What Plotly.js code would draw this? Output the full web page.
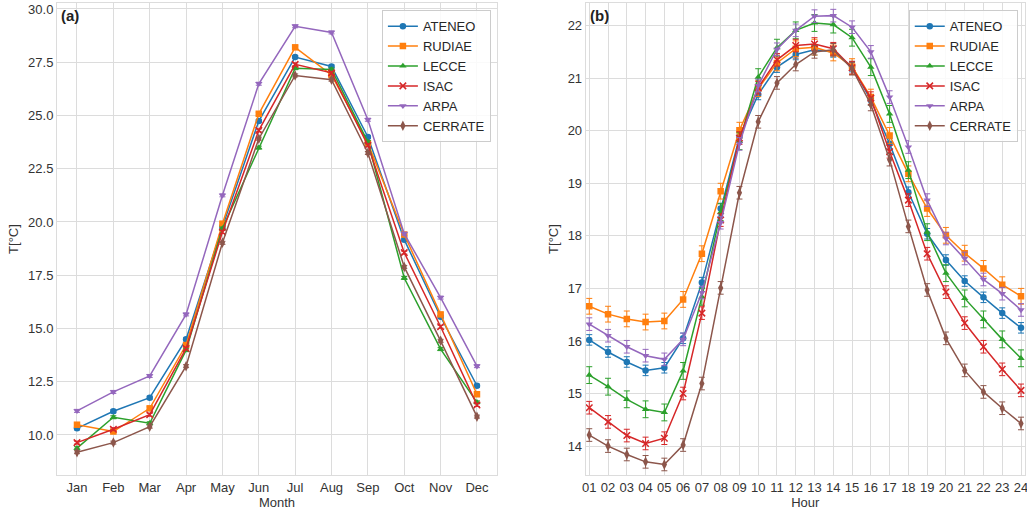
<!DOCTYPE html>
<html>
<head>
<meta charset="utf-8">
<script src="https://cdn.plot.ly/plotly-3.0.1.min.js"></script>
<style>html,body{margin:0;padding:0;background:#fff;}#chart{width:1027px;height:512px;}</style>
</head>
<body>
<div id="chart"></div>
<script>
const months = ["Jan","Feb","Mar","Apr","May","Jun","Jul","Aug","Sep","Oct","Nov","Dec"];
const hours = ["01","02","03","04","05","06","07","08","09","10","11","12","13","14","15","16","17","18","19","20","21","22","23","24"];
const stations = ["ATENEO","RUDIAE","LECCE","ISAC","ARPA","CERRATE"];
const colors = ["#1f77b4","#ff7f0e","#2ca02c","#d62728","#9467bd","#8c564b"];
const symbols = ["circle","square","triangle-up","x-thin","triangle-down","diamond-tall"];

// Monthly mean temperature (panel a)
const monATENEO  = [10.31,11.11,11.75,14.49,19.77,24.74,27.74,27.30,23.99,19.17,15.55,12.31];
const monRUDIAE  = [10.48,10.16,11.25,14.22,19.92,25.08,28.20,26.90,23.70,19.41,15.66,11.91];
const monLECCE   = [9.38,10.83,10.55,13.98,19.69,23.49,27.22,27.16,23.75,17.37,14.03,11.53];
const monISAC    = [9.64,10.27,10.95,14.06,19.53,24.30,27.40,27.00,23.60,18.56,15.08,11.41];
const monARPA    = [11.13,12.02,12.77,15.66,21.25,26.49,29.19,28.90,24.80,19.45,16.45,13.23];
const monCERRATE = [9.19,9.64,10.39,13.23,19.02,23.91,26.88,26.68,23.24,17.89,14.42,10.86];
const monErr = [0.07,0.07,0.07,0.07,0.07,0.07];

// Hourly mean temperature (panel b)
const hrATENEO  = [16.02,15.79,15.60,15.44,15.49,16.05,17.11,18.52,19.88,20.69,21.21,21.45,21.54,21.50,21.22,20.58,19.75,18.83,18.04,17.54,17.14,16.83,16.53,16.25];
const hrRUDIAE  = [16.66,16.51,16.42,16.36,16.38,16.79,17.66,18.85,20.01,20.80,21.29,21.56,21.59,21.48,21.22,20.64,19.91,19.18,18.52,18.01,17.67,17.38,17.07,16.85];
const hrLECCE   = [15.35,15.13,14.89,14.70,14.64,15.43,16.84,18.45,19.80,21.02,21.58,21.91,22.05,22.02,21.77,21.21,20.32,19.25,18.07,17.29,16.81,16.41,16.03,15.67];
const hrISAC    = [14.73,14.46,14.20,14.05,14.15,15.00,16.53,18.30,19.86,20.82,21.35,21.62,21.65,21.56,21.20,20.62,19.60,18.68,17.66,16.93,16.34,15.89,15.46,15.06];
const hrARPA    = [16.32,16.10,15.89,15.72,15.65,16.03,16.92,18.25,19.75,20.86,21.55,21.91,22.18,22.19,21.97,21.50,20.64,19.69,18.68,17.95,17.57,17.17,16.90,16.59];
const hrCERRATE = [14.21,14.00,13.84,13.70,13.65,14.02,15.19,17.01,18.82,20.17,20.91,21.26,21.50,21.54,21.18,20.50,19.45,18.18,16.97,16.05,15.44,15.03,14.72,14.43];
const hrErr = [0.10,0.15,0.16,0.12,0.12,0.12];

const monData = [monATENEO,monRUDIAE,monLECCE,monISAC,monARPA,monCERRATE];
const hrData = [hrATENEO,hrRUDIAE,hrLECCE,hrISAC,hrARPA,hrCERRATE];

const traces = [];
function addTraces(xs, dataSets, errs, xa, ya, legendName) {
  dataSets.forEach((ys, i) => {
    const sym = symbols[i];
    let msize = 6.5;
    if (sym === "diamond-tall") msize = 7.5;
    traces.push({
      type: "scatter", mode: "lines+markers",
      x: xs, y: ys, name: stations[i],
      xaxis: xa, yaxis: ya, legend: legendName,
      line: {color: colors[i], width: 1.5},
      marker: {symbol: sym, size: msize, color: colors[i],
               line: {color: colors[i], width: sym === "x-thin" ? 1.5 : 0}},
      error_y: {type: "constant", value: errs[i], color: colors[i], thickness: 1, width: 3}
    });
  });
}
addTraces(months, monData, monErr, "x", "y", "legend");
addTraces(hours, hrData, hrErr, "x2", "y2", "legend2");

const gridc = "#dcdcdc";
const tickfont = {family: "Liberation Sans, Arial, sans-serif", size: 13, color: "#333333"};
const titlefont = {family: "Liberation Sans, Arial, sans-serif", size: 13, color: "#333333"};
const axisCommon = {
  showgrid: true, gridcolor: gridc, gridwidth: 1,
  showline: true, linecolor: gridc, linewidth: 1, mirror: true,
  zeroline: false, ticks: "", tickfont: tickfont
};
const legendCommon = {
  bgcolor: "rgba(255,255,255,0.85)", bordercolor: "#cccccc", borderwidth: 1,
  font: {family: "Liberation Sans, Arial, sans-serif", size: 13, color: "#262626"},
  xanchor: "right", yanchor: "top", tracegroupgap: 0, itemsizing: "trace", itemwidth: 30
};

const layout = {
  width: 1027, height: 512,
  margin: {l: 0, r: 0, t: 0, b: 0},
  paper_bgcolor: "#ffffff", plot_bgcolor: "#ffffff",
  font: {family: "Liberation Sans, Arial, sans-serif", color: "#333333"},
  showlegend: true,
  xaxis: Object.assign({}, axisCommon, {
    domain: [0.0555, 0.4839], type: "category", range: [-0.55, 11.55],
    title: {text: "Month", font: titlefont, standoff: 2}
  }),
  yaxis: Object.assign({}, axisCommon, {
    domain: [0.0723, 0.9941], range: [8.12, 30.28], dtick: 2.5, tick0: 0, tickformat: ".1f",
    title: {text: "T[°C]", font: titlefont, standoff: 6}
  }),
  xaxis2: Object.assign({}, axisCommon, {
    domain: [0.5703, 0.998], type: "category", range: [-0.19, 23.21], anchor: "y2",
    title: {text: "Hour", font: titlefont, standoff: 2}
  }),
  yaxis2: Object.assign({}, axisCommon, {
    domain: [0.0723, 0.9941], range: [13.45, 22.43], dtick: 1, tick0: 0, anchor: "x2",
    title: {text: "T[°C]", font: titlefont, standoff: 6}
  }),
  legend: Object.assign({}, legendCommon, {x: 0.478, y: 0.98}),
  legend2: Object.assign({}, legendCommon, {x: 0.991, y: 0.98}),
  annotations: [
    {text: "<b>(a)</b>", xref: "x domain", yref: "y domain", x: 0.005, y: 0.995,
     xanchor: "left", yanchor: "top", showarrow: false,
     font: {family: "Liberation Sans, Arial, sans-serif", size: 15, color: "#222222"}},
    {text: "<b>(b)</b>", xref: "x2 domain", yref: "y2 domain", x: 0.005, y: 0.995,
     xanchor: "left", yanchor: "top", showarrow: false,
     font: {family: "Liberation Sans, Arial, sans-serif", size: 15, color: "#222222"}}
  ]
};

Plotly.newPlot("chart", traces, layout, {displayModeBar: false, staticPlot: true});
</script>
</body>
</html>
